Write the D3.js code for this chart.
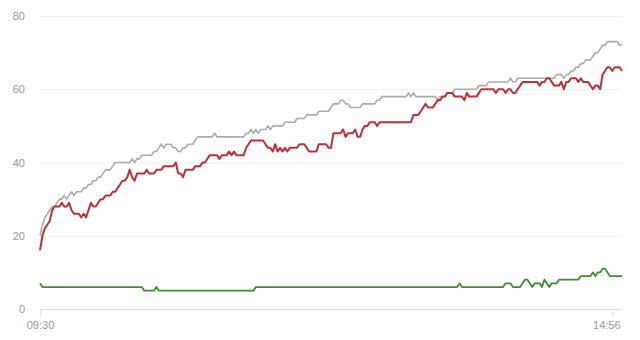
<!DOCTYPE html>
<html><head><meta charset="utf-8">
<script src="https://cdn.jsdelivr.net/npm/d3@7"></script>
<style>body{margin:0;background:#fff;}svg{display:block;font-family:"Open Sans","DejaVu Sans",sans-serif;}</style>
</head><body>
<svg id="c" width="640" height="340"></svg>
<script>
// trading minutes 09:30-11:30, 13:01-15:00
const sessions = [["09:30","11:30"],["13:01","15:00"]];
const tickLabels = ["09:30","14:56"];
const yTicks = [0,20,40,60,80];

const grayValues = [
20,23,25,26,27,28,28,29,30,30,
31,30,31,32,31,32,32,32,33,33,
34,34,35,35,36,36,37,38,38,38,
39,40,40,40,40,40,40,40,41,40,
41,41,42,42,42,42,42,43,43,44,
45,44,45,45,45,44,44,43,43,44,
44,45,45,45,46,47,47,47,47,47,
47,47,48,47,47,47,47,47,47,47,
47,47,47,47,47,48,48,49,48,49,
48,49,49,49,50,49,50,50,50,50,
50,51,51,51,51,51,52,52,52,52,
53,53,53,53,53,54,54,54,54,54,
55,56,56,56,57,57,56,56,55,55,
55,55,55,56,56,56,56,56,56,57,
57,58,58,58,58,58,58,58,58,58,
58,58,59,58,59,58,58,58,58,58,
58,58,58,58,57,58,58,58,59,59,
59,60,60,60,60,60,60,60,60,60,
60,61,61,61,61,62,62,62,62,62,
62,62,62,62,63,62,62,63,63,63,
63,63,63,63,63,63,63,63,63,63,
63,63,63,64,64,64,63,64,64,65,
65,66,66,67,67,68,68,68,69,70,
70,71,72,72,73,73,73,73,73,72,
72];

const redValues = [
16,20,22,23,24,27,28,28,28,29,
28,28,29,27,26,26,26,25,26,25,
27,29,28,28,29,30,30,31,31,31,
32,32,33,34,35,35,36,38,36,35,
37,37,37,37,38,37,37,37,38,38,
38,39,39,39,39,39,40,37,37,36,
38,38,38,38,39,39,39,40,40,41,
42,42,42,42,41,42,42,42,43,42,
43,42,42,42,42,44,45,46,46,46,
46,46,46,45,44,44,43,45,43,44,
43,44,43,44,44,44,44,45,45,45,
44,43,43,43,43,45,45,45,45,44,
44,48,48,48,48,49,47,48,48,48,
49,47,47,49,50,50,51,51,51,50,
51,51,51,51,51,51,51,51,51,51,
51,51,51,51,53,53,53,54,55,56,
55,55,55,56,57,57,58,58,59,59,
59,58,58,58,58,57,59,58,58,58,
58,59,60,60,60,60,60,60,59,60,
60,60,59,60,60,59,59,60,61,62,
62,62,62,62,62,62,61,62,62,63,
63,62,61,61,61,62,60,62,62,63,
63,63,62,63,62,62,62,61,60,61,
61,60,64,65,66,66,65,66,66,66,
65];

const greenValues = [
7,6,6,6,6,6,6,6,6,6,
6,6,6,6,6,6,6,6,6,6,
6,6,6,6,6,6,6,6,6,6,
6,6,6,6,6,6,6,6,6,6,
6,6,6,5,5,5,5,5,6,5,
5,5,5,5,5,5,5,5,5,5,
5,5,5,5,5,5,5,5,5,5,
5,5,5,5,5,5,5,5,5,5,
5,5,5,5,5,5,5,5,5,6,
6,6,6,6,6,6,6,6,6,6,
6,6,6,6,6,6,6,6,6,6,
6,6,6,6,6,6,6,6,6,6,
6,6,6,6,6,6,6,6,6,6,
6,6,6,6,6,6,6,6,6,6,
6,6,6,6,6,6,6,6,6,6,
6,6,6,6,6,6,6,6,6,6,
6,6,6,6,6,6,6,6,6,6,
6,6,6,7,6,6,6,6,6,6,
6,6,6,6,6,6,6,6,6,6,
6,6,7,7,7,6,6,6,6,7,
8,8,7,6,7,7,7,6,8,7,
6,7,7,7,8,8,8,8,8,8,
8,8,8,9,9,9,9,9,10,9,
10,10,11,11,10,9,9,9,9,9,
9];

// build minute categories
function toMin(s){const [h,m]=s.split(":").map(Number);return h*60+m;}
function fmt(m){return String(Math.floor(m/60)).padStart(2,"0")+":"+String(m%60).padStart(2,"0");}
const times = [];
sessions.forEach(([a,b])=>{for(let m=toMin(a);m<=toMin(b);m++) times.push(fmt(m));});

const svg = d3.select("#c");
const M = {left:40, right:18, top:16, bottom:31};
const W = 640, H = 340;
const x = d3.scalePoint().domain(times).range([M.left, W-M.right]);
const y = d3.scaleLinear().domain([0,80]).range([H-M.bottom, M.top]);

// gridlines
const gy = svg.append("g").attr("transform",`translate(${M.left},0)`)
  .call(d3.axisLeft(y).tickValues(yTicks).tickSize(-(W-M.right-M.left)).tickPadding(15));
gy.select(".domain").remove();
gy.selectAll(".tick line").attr("stroke", d => d===0 ? "#dcdcdc" : "#efefef").attr("stroke-width",1);
gy.selectAll(".tick text").attr("fill","#999").attr("font-size","11px");

// x axis
const gx = svg.append("g").attr("transform",`translate(0,${H-M.bottom})`)
  .call(d3.axisBottom(x).tickValues(tickLabels).tickSize(8).tickPadding(4));
gx.select(".domain").remove();
gx.selectAll(".tick line").attr("stroke","#e2e2e2");
gx.selectAll(".tick text").attr("fill","#999").attr("font-size","11px")
  .attr("dx", d => d==="14:56" ? -6 : 0);

const line = d3.line().x((d,i)=>x(times[i])).y(d=>y(d));
const series = [
  {v: grayValues, c:"#ababab", w:1.6},
  {v: redValues, c:"#bb3139", w:2},
  {v: greenValues, c:"#3f8c2f", w:1.8}
];
series.forEach(s=>{
  svg.append("path").datum(s.v).attr("d",line).attr("fill","none")
    .attr("stroke",s.c).attr("stroke-width",s.w).attr("stroke-linejoin","round");
});
</script>
</body></html>
